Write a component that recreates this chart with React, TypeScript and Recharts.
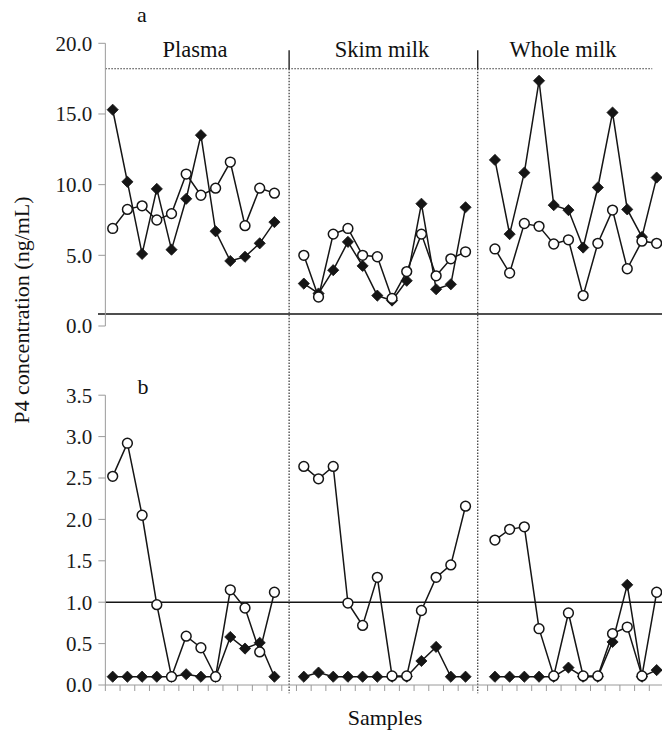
import React from 'react';
import { LineChart, Line, XAxis, YAxis, ReferenceLine } from 'recharts';

// ---- Data ----
const groupNames = ['Plasma', 'Skim milk', 'Whole milk'];

// Panel a (ng/mL)
const plasmaFilledA = [15.3, 10.2, 5.1, 9.7, 5.4, 9.0, 13.5, 6.7, 4.6, 4.9, 5.85, 7.35];
const plasmaOpenA = [6.9, 8.25, 8.5, 7.5, 7.95, 10.75, 9.25, 9.75, 11.6, 7.1, 9.75, 9.4];
const skimFilledA = [3.0, 2.3, 3.95, 5.95, 4.25, 2.15, 1.8, 3.2, 8.65, 2.6, 2.95, 8.4];
const skimOpenA = [5.0, 2.05, 6.5, 6.9, 5.0, 4.9, 1.95, 3.85, 6.5, 3.55, 4.75, 5.25];
const wholeFilledA = [11.75, 6.5, 10.85, 17.35, 8.55, 8.2, 5.55, 9.8, 15.1, 8.25, 6.3, 10.5];
const wholeOpenA = [5.45, 3.75, 7.25, 7.05, 5.8, 6.1, 2.15, 5.85, 8.2, 4.05, 6.0, 5.85];

// Panel b (ng/mL)
const plasmaFilledB = [0.1, 0.1, 0.1, 0.1, 0.1, 0.13, 0.1, 0.1, 0.58, 0.44, 0.51, 0.1];
const plasmaOpenB = [2.52, 2.92, 2.05, 0.97, 0.1, 0.59, 0.45, 0.1, 1.15, 0.93, 0.4, 1.12];
const skimFilledB = [0.1, 0.15, 0.1, 0.1, 0.1, 0.1, 0.1, 0.1, 0.29, 0.46, 0.1, 0.1];
const skimOpenB = [2.64, 2.49, 2.64, 0.99, 0.72, 1.3, 0.11, 0.11, 0.9, 1.3, 1.45, 2.16];
const wholeFilledB = [0.1, 0.1, 0.1, 0.1, 0.1, 0.21, 0.1, 0.1, 0.52, 1.21, 0.1, 0.18];
const wholeOpenB = [1.75, 1.88, 1.91, 0.68, 0.11, 0.87, 0.11, 0.11, 0.62, 0.7, 0.11, 1.12];

const ticksA = [0, 5, 10, 15, 20];
const ticksB = [0, 0.5, 1, 1.5, 2, 2.5, 3, 3.5];
const upperLimitA = 18.2;
const lowerLimitA = 0.85;
const limitB = 1.0;
const separatorsX = [13, 25.83];

// ---- Build tables ----
const PER_GROUP = 12;
const SLOT = PER_GROUP + 1; // one empty slot between groups
const TOTAL = SLOT * groupNames.length - 1; // 38

function buildRows(filled: number[][], open: number[][]) {
  const rows: any[] = [];
  for (let x = 1; x <= TOTAL; x++) {
    const g = Math.floor((x - 1) / SLOT);
    const i = (x - 1) % SLOT;
    if (i >= PER_GROUP) rows.push({ x, filled: null, open: null });
    else rows.push({ x, filled: filled[g][i], open: open[g][i] });
  }
  return rows;
}

const rowsA = buildRows([plasmaFilledA, skimFilledA, wholeFilledA], [plasmaOpenA, skimOpenA, wholeOpenA]);
const rowsB = buildRows([plasmaFilledB, skimFilledB, wholeFilledB], [plasmaOpenB, skimOpenB, wholeOpenB]);
const boundaryTicks = Array.from({ length: TOTAL + 1 }, (_, k) => k + 0.5);

const FONT = "'Liberation Serif', 'DejaVu Serif', serif";
const INK = '#151515';
const AXIS = '#9a9a9a';

const Diamond = (props: any) => {
  const { cx, cy, index } = props;
  if (cx == null || cy == null || Number.isNaN(cy)) return <g key={`d-${index}`} />;
  const s = 5.6;
  return (
    <path
      key={`d-${index}`}
      d={`M${cx},${cy - s}L${cx + s},${cy}L${cx},${cy + s}L${cx - s},${cy}Z`}
      fill={INK}
      stroke={INK}
      strokeWidth={0.8}
    />
  );
};

const Circle = (props: any) => {
  const { cx, cy, index } = props;
  if (cx == null || cy == null || Number.isNaN(cy)) return <g key={`c-${index}`} />;
  return <circle key={`c-${index}`} cx={cx} cy={cy} r={4.9} fill="#fff" stroke={INK} strokeWidth={1.5} />;
};

const YTick = (props: any) => {
  const { x, y, payload } = props;
  return (
    <text x={x} y={y} dy="0.35em" textAnchor="end" style={{ fontFamily: FONT, fontSize: 21, fill: '#1a1a1a' }}>
      {Number(payload.value).toFixed(1)}
    </text>
  );
};

const textStyle: React.CSSProperties = { fontFamily: FONT, fill: '#111' };

export default function App() {
  const W = 664;
  return (
    <div style={{ position: 'absolute', left: 0, top: 0, width: 662, height: 734, overflow: 'hidden', background: '#fff', fontFamily: FONT }}>
      {/* Panel a */}
      <div style={{ position: 'absolute', left: 0, top: 0 }}>
        <LineChart width={W} height={360} data={rowsA} margin={{ top: 43.3, right: 0, bottom: 34, left: 0 }}>
          <XAxis type="number" dataKey="x" domain={[0.5, TOTAL + 0.5]} hide />
          <YAxis
            type="number"
            domain={[0, 20]}
            ticks={ticksA}
            width={105.35}
            tickSize={7}
            tickMargin={6}
            tick={<YTick />}
            axisLine={{ stroke: AXIS }}
            tickLine={{ stroke: AXIS }}
            interval={0}
          />
          <ReferenceLine
            segment={[{ x: 0.5, y: upperLimitA }, { x: 37.7, y: upperLimitA }]}
            stroke="#333"
            strokeWidth={1}
            strokeDasharray="1.5 1.5"
            ifOverflow="visible"
          />
          <ReferenceLine
            segment={[{ x: 0.0, y: lowerLimitA }, { x: TOTAL + 0.5, y: lowerLimitA }]}
            stroke={INK}
            strokeWidth={1.6}
            ifOverflow="visible"
          />
          {separatorsX.map((sx) => (
            <ReferenceLine
              key={`sa-${sx}`}
              segment={[{ x: sx, y: 19.5 }, { x: sx, y: upperLimitA }]}
              stroke="#222"
              strokeWidth={1.4}
              ifOverflow="visible"
            />
          ))}
          {separatorsX.map((sx) => (
            <ReferenceLine
              key={`sb-${sx}`}
              segment={[{ x: sx, y: upperLimitA }, { x: sx, y: -2.5 }]}
              stroke="#333"
              strokeWidth={1.2}
              strokeDasharray="1.5 1.5"
              ifOverflow="visible"
            />
          ))}
          <Line dataKey="filled" stroke={INK} strokeWidth={1.5} dot={(p: any) => <Diamond {...p} />} isAnimationActive={false} />
          <Line dataKey="open" stroke={INK} strokeWidth={1.5} dot={(p: any) => <Circle {...p} />} isAnimationActive={false} />
        </LineChart>
      </div>

      {/* Panel b */}
      <div style={{ position: 'absolute', left: 0, top: 360 }}>
        <LineChart width={W} height={374} data={rowsB} margin={{ top: 35.2, right: 0, bottom: 19, left: 0 }}>
          <XAxis
            type="number"
            dataKey="x"
            domain={[0.5, TOTAL + 0.5]}
            ticks={boundaryTicks}
            interval={0}
            tickSize={6}
            tickFormatter={() => ''}
            height={30}
            axisLine={{ stroke: AXIS }}
            tickLine={{ stroke: AXIS }}
          />
          <YAxis
            type="number"
            domain={[0, 3.5]}
            ticks={ticksB}
            width={105.35}
            tickSize={7}
            tickMargin={6}
            tick={<YTick />}
            axisLine={{ stroke: AXIS }}
            tickLine={{ stroke: AXIS }}
            interval={0}
          />
          <ReferenceLine y={limitB} stroke={INK} strokeWidth={1.6} />
          {separatorsX.map((sx) => (
            <ReferenceLine
              key={`sc-${sx}`}
              segment={[{ x: sx, y: 3.93 }, { x: sx, y: -0.1 }]}
              stroke="#333"
              strokeWidth={1.2}
              strokeDasharray="1.5 1.5"
              ifOverflow="visible"
            />
          ))}
          <Line dataKey="filled" stroke={INK} strokeWidth={1.5} dot={(p: any) => <Diamond {...p} />} isAnimationActive={false} />
          <Line dataKey="open" stroke={INK} strokeWidth={1.5} dot={(p: any) => <Circle {...p} />} isAnimationActive={false} />
        </LineChart>
      </div>

      {/* Text annotations */}
      <svg width={662} height={734} style={{ position: 'absolute', left: 0, top: 0, pointerEvents: 'none' }}>
        <text x={142} y={22} textAnchor="middle" style={{ ...textStyle, fontSize: 22 }}>a</text>
        <text x={143} y={394} textAnchor="middle" style={{ ...textStyle, fontSize: 22 }}>b</text>
        <text x={195} y={57} textAnchor="middle" style={{ ...textStyle, fontSize: 22.5 }}>{groupNames[0]}</text>
        <text x={382} y={57} textAnchor="middle" style={{ ...textStyle, fontSize: 22.5 }}>{groupNames[1]}</text>
        <text x={563} y={57} textAnchor="middle" style={{ ...textStyle, fontSize: 22.5 }}>{groupNames[2]}</text>
        <text x={385} y={725} textAnchor="middle" style={{ ...textStyle, fontSize: 22 }}>Samples</text>
        <text
          x={0}
          y={0}
          textAnchor="middle"
          dominantBaseline="central"
          transform="translate(21,310) rotate(-90)"
          style={{ ...textStyle, fontSize: 22 }}
        >
          P4 concentration (ng/mL)
        </text>
      </svg>
    </div>
  );
}
